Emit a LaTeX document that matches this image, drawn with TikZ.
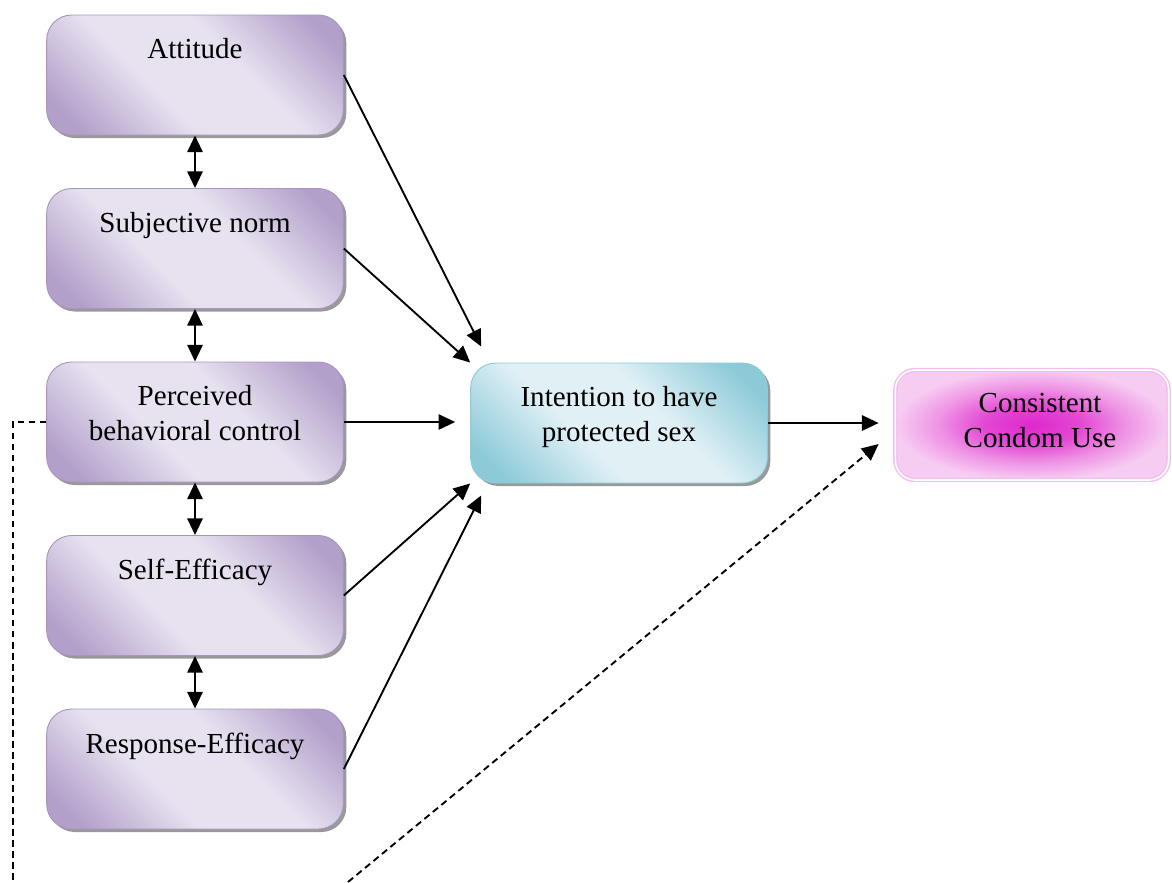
\documentclass[tikz,border=0pt]{standalone}
\usepackage{fontspec}
\setmainfont{Liberation Serif}
\usetikzlibrary{arrows.meta,shadows}
\definecolor{pbdark}{RGB}{178,160,202}
\definecolor{pblight}{RGB}{232,226,240}
\definecolor{pbline}{RGB}{168,150,192}
\definecolor{tldark}{RGB}{140,202,216}
\definecolor{tllight}{RGB}{224,240,245}
\definecolor{tlline}{RGB}{140,204,218}
\definecolor{pkcore}{RGB}{222,40,204}
\definecolor{pkedge}{RGB}{247,204,242}
\definecolor{pkline}{RGB}{244,190,236}
\pgfdeclarehorizontalshading{purplesheen}{100bp}{color(0bp)=(pbdark); color(21bp)=(pbdark); color(41bp)=(pblight); color(59bp)=(pblight); color(79bp)=(pbdark); color(100bp)=(pbdark)}
\pgfdeclarehorizontalshading{tealsheen}{100bp}{color(0bp)=(tldark); color(21bp)=(tldark); color(41bp)=(tllight); color(59bp)=(tllight); color(79bp)=(tldark); color(100bp)=(tldark)}
\pgfdeclareradialshading{pinkglow}{\pgfpoint{0bp}{0bp}}{color(0bp)=(pkcore); color(9bp)=(pkcore!80!pkedge); color(17bp)=(pkcore!35!pkedge); color(25bp)=(pkedge); color(50bp)=(pkedge)}
\tikzset{
  factor/.style={rectangle, rounded corners=0.75cm, minimum width=8.9cm, minimum height=3.6cm,
    draw=pbline, line width=0.8pt, shading=purplesheen, shading angle=45,
    drop shadow={shadow xshift=0.09cm, shadow yshift=-0.09cm, fill=black!40, opacity=1}},
  intent/.style={factor, draw=tlline, shading=tealsheen},
  outcome/.style={rectangle, rounded corners=0.6cm, minimum width=8.2cm, minimum height=3.3cm,
    draw=pkline, line width=1.2pt, double=white, double distance=1.4pt, shading=pinkglow},
  caption/.style={anchor=north, yshift=-0.72cm, align=center, inner sep=0pt},
  link/.style={line width=1.6pt, -{Triangle[length=0.5cm,width=0.46cm]}},
  both/.style={line width=1.6pt, {Triangle[length=0.5cm,width=0.46cm]}-{Triangle[length=0.5cm,width=0.46cm]}},
  hint/.style={dash pattern=on 0.2cm off 0.13cm}
}
\begin{document}
\begin{tikzpicture}[x=0.03cm, y=-0.03cm, font=\fontsize{24.8}{29.9}\selectfont]
  \useasboundingbox (0,0) rectangle (1172,882);
  \draw
    (195,75) node[factor, label={[caption]north:Attitude}] (att){}
    (195,248.5) node[factor, label={[caption]north:Subjective norm}] (sn){}
    (195,422) node[factor, label={[caption]north:Perceived\\behavioral control}] (pbc){}
    (195,595.5) node[factor, label={[caption]north:Self-Efficacy}] (se){}
    (195,769) node[factor, label={[caption]north:Response-Efficacy}] (re){}
    (619,423) node[intent, label={[caption]north:Intention to have\\protected sex}] (int){}
    (1032,425) node[outcome, label={[caption, xshift=0.24cm, yshift=0.02cm]north:Consistent\\Condom Use}] (ccu){};
  \coordinate (dl) at (13,882);
  \coordinate (dr) at (348,882);
  % links between the factors
  \begin{scope}[both]
    \draw (att) to (sn);
    \draw (sn) to (pbc);
    \draw (pbc) to (se);
    \draw (se) to (re);
  \end{scope}
  % links to intention and behaviour
  \begin{scope}[link]
    \draw (att.east) to ([xshift=0.33cm,yshift=0.48cm]int.north west);
    \draw (sn.east) to (int.north west);
    \draw[shorten >=0.45cm] (pbc.east) to (pbc.east -| int.west);
    \draw (se.east) to (int.south west);
    \draw (re.east) to ([xshift=0.33cm,yshift=-0.36cm]int.south west);
    \draw[shorten >=0.48cm] (int.east) to (int.east -| ccu.west);
    \draw[hint] (dr) to ([xshift=-0.48cm,yshift=-0.57cm]ccu.west);
  \end{scope}
  \draw[line width=1.6pt, hint] (pbc.west) -| (dl);
\end{tikzpicture}
\end{document}
